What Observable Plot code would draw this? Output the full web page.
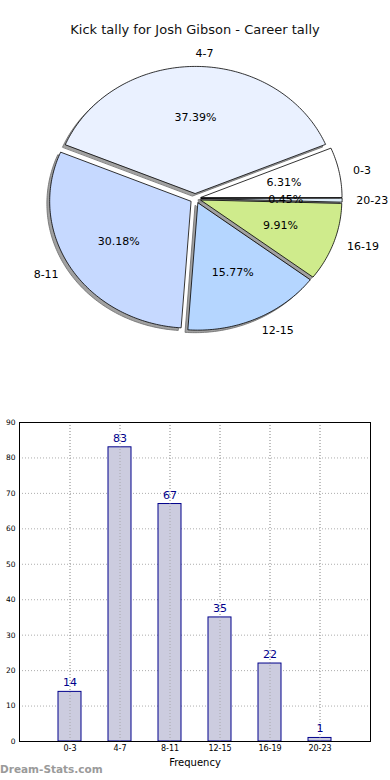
<!DOCTYPE html>
<html>
<head>
<meta charset="utf-8">
<script src="https://cdn.jsdelivr.net/npm/d3@7"></script>
<script src="https://cdn.jsdelivr.net/npm/@observablehq/plot@0.6"></script>
<style>
  body { margin: 0; background: #fff; font-family: "DejaVu Sans", sans-serif; }
  #wrap { position: relative; width: 390px; height: 780px; overflow: hidden; }
  #title { height: 40px; box-sizing: border-box; padding-top: 22px; line-height: 16px; font-size: 13px; text-align: center; color: #111; }
  #mark { position: absolute; left: 0; top: 763px; font-size: 10.5px; font-weight: bold; color: #9a9a9a; }
  svg { display: block; }
</style>
</head>
<body>
<div id="wrap">
  <div id="title">Kick tally for Josh Gibson - Career tally</div>
  <div id="pie"></div>
  <div id="bar"></div>
  <div id="mark">Dream-Stats.com</div>
</div>
<script>
const categories = ["0-3", "4-7", "8-11", "12-15", "16-19", "20-23"];
const counts = [14, 83, 67, 35, 22, 1];
const sliceColors = ["#ffffff", "#eaf1ff", "#c6d9ff", "#b5d6ff", "#cfeb8c", "#dcebf7"];
const yTicks = [0, 10, 20, 30, 40, 50, 60, 70, 80, 90];

const total = d3.sum(counts);
const explode = 0.04;
const shadowOff = 0.02;

// Pie geometry (matplotlib style: start at 0 rad, counter-clockwise)
const slices = [];
let acc = 0;
categories.forEach((c, i) => {
  const a0 = acc / total * 2 * Math.PI;
  acc += counts[i];
  const a1 = acc / total * 2 * Math.PI;
  const am = (a0 + a1) / 2;
  const ox = explode * Math.cos(am), oy = explode * Math.sin(am);
  slices.push({cat: c, value: counts[i], color: sliceColors[i], a0, a1, am, ox, oy,
    pct: (counts[i] / total * 100).toFixed(2) + "%"});
});

function polygon(s, dx, dy) {
  const pts = [{cat: s.cat, color: s.color, x: s.ox + dx, y: s.oy + dy}];
  const n = Math.max(2, Math.ceil((s.a1 - s.a0) / (Math.PI / 180)));
  for (let k = 0; k <= n; k++) {
    const a = s.a0 + (s.a1 - s.a0) * k / n;
    pts.push({cat: s.cat, color: s.color, x: s.ox + dx + Math.cos(a), y: s.oy + dy + Math.sin(a)});
  }
  return pts;
}
const slicePts = slices.flatMap(s => polygon(s, 0, 0));
const shadowPts = slices.flatMap(s => polygon(s, -shadowOff, -shadowOff));

const labels = slices.map(s => ({cat: s.cat, x: s.ox + 1.1 * Math.cos(s.am), y: s.oy + 1.1 * Math.sin(s.am), right: Math.cos(s.am) > 0}));
const pcts = slices.map(s => ({pct: s.pct, x: s.ox + 0.6 * Math.cos(s.am), y: s.oy + 0.6 * Math.sin(s.am)}));

const pie = Plot.plot({
  width: 390, height: 340,
  margin: 0,
  x: {domain: [-1, 1], range: [54, 336], axis: null},
  y: {domain: [-1, 1], range: [285, 31], axis: null},
  color: {type: "identity"},
  style: {fontFamily: "DejaVu Sans, sans-serif", background: "transparent"},
  marks: [
    Plot.line(shadowPts, {x: "x", y: "y", z: "cat", curve: "linear-closed", fill: "#909090", fillOpacity: 0.85, stroke: "#6a6a6a", strokeWidth: 0.8}),
    Plot.line(slicePts, {x: "x", y: "y", z: "cat", curve: "linear-closed", fill: "color", stroke: "#000", strokeWidth: 0.8}),
    Plot.text(labels.filter(d => d.right), {x: "x", y: "y", text: "cat", textAnchor: "start", fontSize: 11, fill: "#000"}),
    Plot.text(labels.filter(d => !d.right), {x: "x", y: "y", text: "cat", textAnchor: "end", fontSize: 11, fill: "#000"}),
    Plot.text(pcts, {x: "x", y: "y", text: "pct", fontSize: 11, fill: "#000"})
  ]
});
document.getElementById("pie").appendChild(pie);

const barData = categories.map((c, i) => ({cat: c, value: counts[i]}));

const bar = Plot.plot({
  width: 390, height: 400,
  marginTop: 42, marginBottom: 39, marginLeft: 19, marginRight: 20,
  x: {domain: categories, paddingInner: 0.54, paddingOuter: 0.77, label: null},
  y: {domain: [0, 90], ticks: yTicks, label: null},
  style: {fontFamily: "DejaVu Sans, sans-serif", background: "transparent"},
  marks: [
    Plot.gridY(yTicks, {stroke: "#999", strokeOpacity: 0.8, strokeDasharray: "1,2"}),
    Plot.gridX(categories, {stroke: "#999", strokeOpacity: 0.8, strokeDasharray: "1,2"}),
    Plot.barY(barData, {x: "cat", y: "value", fill: "#ccccdf", stroke: "#00008b", strokeWidth: 1}),
    Plot.gridX(categories, {stroke: "#999", strokeOpacity: 0.7, strokeDasharray: "1,2"}),
    Plot.text(barData, {x: "cat", y: "value", text: d => String(d.value), dy: -9, fontSize: 11, fill: "#00008b"}),
    Plot.axisY(yTicks, {tickSize: 0, tickPadding: 4, fontSize: 7.5, tickFormat: d => String(d), label: null}),
    Plot.axisX(categories, {tickSize: 0, tickPadding: 4, fontSize: 8, label: null}),
    Plot.text(["Frequency"], {frameAnchor: "bottom", dy: 24, fontSize: 10, fill: "#000"}),
    Plot.frame({stroke: "#000", strokeWidth: 1})
  ]
});
document.getElementById("bar").appendChild(bar);
</script>
</body>
</html>
